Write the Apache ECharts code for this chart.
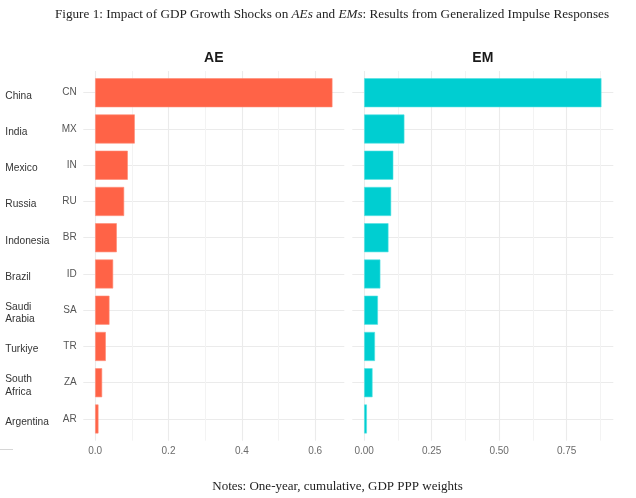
<!DOCTYPE html>
<html>
<head>
    <meta charset="utf-8">
    <title></title>
    <script src="https://cdn.jsdelivr.net/npm/echarts@6/dist/echarts.min.js"></script>
</head>
<style>
    html, body { margin: 0; padding: 0; background: #fff; }
    #chart_box { width: 636px; height: 498px; }
</style>
<body>
    <div id="chart_box"></div>
    <script>
        // data
        var codes = ['CN', 'MX', 'IN', 'RU', 'BR', 'ID', 'SA', 'TR', 'ZA', 'AR'];
        var countryNames = ['China', 'India', 'Mexico', 'Russia', 'Indonesia', 'Brazil', 'Saudi\nArabia', 'Turkiye', 'South\nAfrica', 'Argentina'];
        var aeValues = [0.647, 0.108, 0.089, 0.079, 0.059, 0.049, 0.039, 0.029, 0.019, 0.009];
        var emValues = [0.879, 0.149, 0.108, 0.100, 0.090, 0.060, 0.051, 0.040, 0.031, 0.010];
        var aeTicks = [0, 0.2, 0.4, 0.6];
        var aeMinorTicks = [0.1, 0.3, 0.5];
        var emTicks = [0, 0.25, 0.5, 0.75];
        var emMinorTicks = [0.125, 0.375, 0.625, 0.875];
        var catPos = [1, 2, 3, 4, 5, 6, 7, 8, 9, 10];

        var myChart = echarts.init(document.getElementById('chart_box'));

        // ggplot style 5% expansion
        var aeMax = Math.max.apply(null, aeValues), emMax = Math.max.apply(null, emValues);
        var aeMin = -aeMax * 0.05, aeTop = aeMax * 1.05;
        var emMin = -emMax * 0.05, emTop = emMax * 1.05;

        var FONT = 'Liberation Sans';
        var gridColor = '#ebebeb';

        function majorAxis(grid, min, max, ticks, digits) {
            return {
                type: 'value', gridIndex: grid, min: min, max: max, position: 'bottom',
                axisLine: { show: false },
                axisTick: { show: false, customValues: ticks },
                axisLabel: {
                    customValues: ticks, margin: 6, color: '#6b6b6b', fontSize: 10, fontFamily: FONT,
                    formatter: function (v) { return v.toFixed(digits); }
                },
                splitLine: { show: true, lineStyle: { color: gridColor, width: 1.1 } }
            };
        }
        function minorAxis(grid, min, max, ticks) {
            return {
                type: 'value', gridIndex: grid, min: min, max: max, position: 'top',
                axisLine: { show: false },
                axisTick: { show: false, customValues: ticks },
                axisLabel: { show: false },
                splitLine: { show: true, lineStyle: { color: '#f3f3f3', width: 1 } }
            };
        }
        function hiddenX(grid, min, max) {
            return {
                type: 'value', gridIndex: grid, min: min, max: max,
                axisLine: { show: false }, axisTick: { show: false },
                axisLabel: { show: false }, splitLine: { show: false }
            };
        }
        function bgY(grid) {
            return {
                type: 'value', gridIndex: grid, min: 0.4, max: 10.6, inverse: true,
                axisLine: { show: false },
                axisTick: { show: false, customValues: catPos },
                axisLabel: { show: false },
                splitLine: { show: true, lineStyle: { color: gridColor, width: 1.1 } }
            };
        }

        var option = {
            backgroundColor: '#ffffff',
            animation: false,
            grid: [
                { left: 83.3, top: 71, width: 261, height: 369.7, outerBoundsMode: 'none' },
                { left: 83.3, top: 74.6, width: 261, height: 362.5, outerBoundsMode: 'none' },
                { left: 352.3, top: 71, width: 261, height: 369.7, outerBoundsMode: 'none' },
                { left: 352.3, top: 74.6, width: 261, height: 362.5, outerBoundsMode: 'none' },
                // country names sit a little lower than the codes
                { left: 83.3, top: 77.8, width: 261, height: 362.5, outerBoundsMode: 'none' }
            ],
            xAxis: [
                majorAxis(0, aeMin, aeTop, aeTicks, 1),
                minorAxis(0, aeMin, aeTop, aeMinorTicks),
                hiddenX(1, aeMin, aeTop),
                majorAxis(2, emMin, emTop, emTicks, 2),
                minorAxis(2, emMin, emTop, emMinorTicks),
                hiddenX(3, emMin, emTop),
                hiddenX(4, 0, 1)
            ],
            yAxis: [
                bgY(0),
                {
                    type: 'category', gridIndex: 1, data: codes, inverse: true, position: 'left',
                    axisLine: { show: false }, axisTick: { show: false }, splitLine: { show: false },
                    axisLabel: { margin: 6.6, color: '#555', fontSize: 10, fontFamily: FONT }
                },
                {
                    type: 'category', gridIndex: 4, data: countryNames, inverse: true, position: 'left',
                    axisLine: { show: false }, axisTick: { show: false }, splitLine: { show: false },
                    axisLabel: {
                        margin: 78, align: 'left', color: '#333', fontSize: 10.2, fontFamily: FONT,
                        lineHeight: 12.5
                    }
                },
                bgY(2),
                {
                    type: 'category', gridIndex: 3, data: codes, inverse: true, position: 'left',
                    axisLine: { show: false }, axisTick: { show: false }, splitLine: { show: false },
                    axisLabel: { show: false }
                }
            ],
            series: [
                {
                    name: 'AE', type: 'bar', xAxisIndex: 2, yAxisIndex: 1, data: aeValues,
                    barWidth: 29, itemStyle: { color: '#ff6347', borderColor: '#ff8a73', borderWidth: 0.6 }
                },
                {
                    name: 'EM', type: 'bar', xAxisIndex: 5, yAxisIndex: 4, data: emValues,
                    barWidth: 29, itemStyle: { color: '#00ced1', borderColor: '#4fe0e2', borderWidth: 0.6 }
                }
            ],
            graphic: [
                {
                    type: 'text', x: 332, y: 15,
                    style: {
                        text: 'Figure 1: Impact of GDP Growth Shocks on {i|AEs} and {i|EMs}: Results from Generalized Impulse Responses',
                        align: 'center', verticalAlign: 'middle',
                        fontFamily: 'Liberation Serif', fontSize: 13.2, fill: '#222',
                        rich: { i: { fontStyle: 'italic', fontFamily: 'Liberation Serif', fontSize: 13.2, fill: '#222' } }
                    }
                },
                {
                    type: 'text', x: 213.8, y: 58,
                    style: { text: 'AE', align: 'center', verticalAlign: 'middle', fontFamily: FONT, fontWeight: 'bold', fontSize: 14, fill: '#1a1a1a' }
                },
                {
                    type: 'text', x: 482.8, y: 58,
                    style: { text: 'EM', align: 'center', verticalAlign: 'middle', fontFamily: FONT, fontWeight: 'bold', fontSize: 14, fill: '#1a1a1a' }
                },
                {
                    type: 'text', x: 337.5, y: 487,
                    style: { text: 'Notes: One-year, cumulative, GDP PPP weights', align: 'center', verticalAlign: 'middle', fontFamily: 'Liberation Serif', fontSize: 13, fill: '#222' }
                },
                {
                    type: 'line', shape: { x1: 0, y1: 449.5, x2: 13, y2: 449.5 },
                    style: { stroke: '#d6d6d6', lineWidth: 1 }
                }
            ]
        };
        myChart.setOption(option);
    </script>
</body>
</html>
